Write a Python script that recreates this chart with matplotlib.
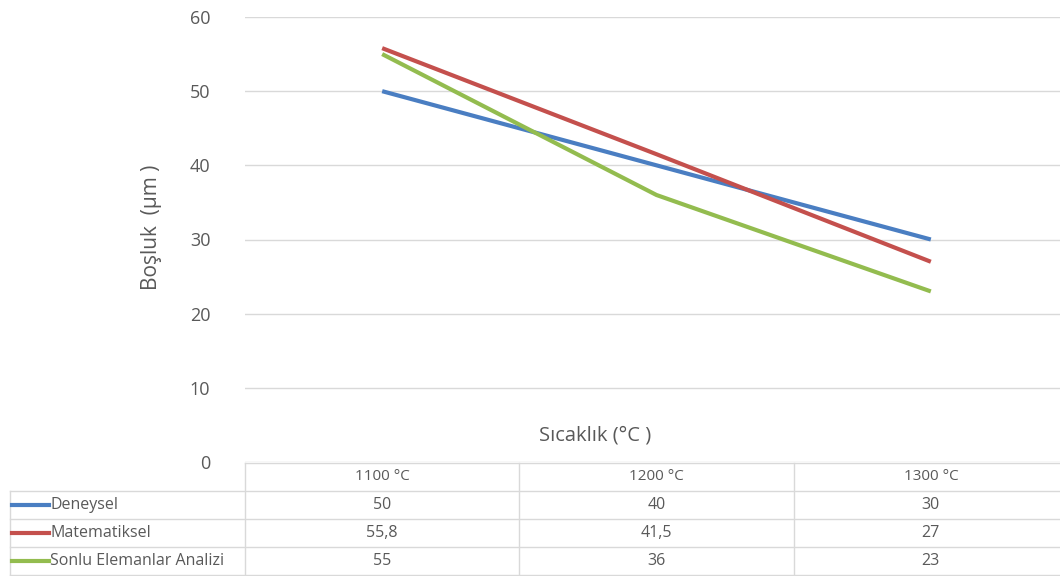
import matplotlib.pyplot as plt
import numpy as np

plt.rcParams['font.family'] = ['Open Sans', 'DejaVu Sans']

# data
categories = ["1100 °C", "1200 °C", "1300 °C"]
series_names = ["Deneysel", "Matematiksel", "Sonlu Elemanlar Analizi"]
deneysel = [50, 40, 30]
matematiksel = [55.8, 41.5, 27]
sonlu = [55, 36, 23]
y_ticks = [0, 10, 20, 30, 40, 50, 60]

colors = ["#4A7EC2", "#C4504D", "#93BC4F"]
text_color = "#595959"
grid_color = "#D9D9D9"

W, H = 1060, 576
fig = plt.figure(figsize=(W / 100, H / 100), dpi=100)

# main plot area (pixel layout, right edge runs slightly past the image)
left, right, top, bottom = 245, 1068, 17, 462
ax = fig.add_axes([left / W, (H - bottom) / H, (right - left) / W, (bottom - top) / H])
x = np.arange(len(categories))
for vals, c, name in zip([deneysel, matematiksel, sonlu], colors, series_names):
    ax.plot(x, vals, color=c, linewidth=3, solid_capstyle='butt', label=name)
ax.set_xlim(-0.5, len(categories) - 0.5)
ax.set_ylim(0, 60)
ax.set_yticks(y_ticks)
ax.set_xticks([])
ax.grid(axis='y', color=grid_color, linewidth=1)
ax.set_axisbelow(True)
for s in ax.spines.values():
    s.set_visible(False)
ax.tick_params(axis='y', length=0, pad=25, labelsize=13, labelcolor=text_color)

fig.text(152 / W, 1 - 227 / H, "Boşluk  (µm )", rotation=90, ha='center', va='center',
         fontsize=15, color=text_color)
fig.text(595 / W, 1 - 436 / H, "Sıcaklık (°C )", ha='center', va='center',
         fontsize=14.5, color=text_color)

# data table underneath
tab = fig.add_axes([0, 0, 1, (H - bottom) / H])
tab.set_xlim(0, W)
tab.set_ylim(H, bottom)
tab.axis('off')
col_edges = np.linspace(left, right, len(categories) + 1)
row_edges = np.linspace(bottom + 1, H - 1, len(series_names) + 2)

lc = dict(color=grid_color, linewidth=1)
tab.plot([left, right], [row_edges[0], row_edges[0]], **lc)
for yy in row_edges[1:]:
    tab.plot([10, right], [yy, yy], **lc)
for xx in col_edges:
    tab.plot([xx, xx], [row_edges[0], row_edges[-1]], **lc)
tab.plot([10, 10], [row_edges[1], row_edges[-1]], **lc)

for j, cat in enumerate(categories):
    cx = (col_edges[j] + col_edges[j + 1]) / 2
    tab.text(cx, (row_edges[0] + row_edges[1]) / 2, cat, ha='center', va='center',
             fontsize=11, color=text_color)

for i, (name, vals, c) in enumerate(zip(series_names, [deneysel, matematiksel, sonlu], colors)):
    cy = (row_edges[i + 1] + row_edges[i + 2]) / 2
    tab.plot([12, 49], [cy, cy], color=c, linewidth=3)
    tab.text(50, cy, name, ha='left', va='center', fontsize=11.5, color=text_color)
    for j, v in enumerate(vals):
        cx = (col_edges[j] + col_edges[j + 1]) / 2
        tab.text(cx, cy, f"{v:g}".replace('.', ','), ha='center', va='center',
                 fontsize=11.5, color=text_color)

fig.savefig("out.png", dpi=100)
